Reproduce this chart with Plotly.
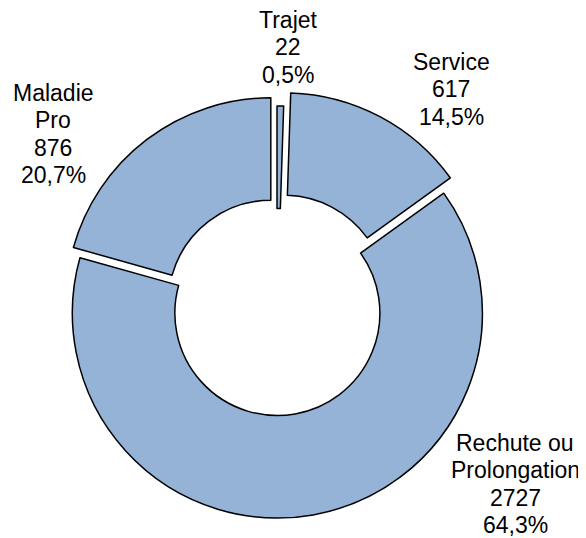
import plotly.graph_objects as go

# Répartition des arrêts par type
labels = ["Trajet", "Service", "Rechute ou Prolongation", "Maladie Pro"]
label_lines = [["Trajet"], ["Service"], ["Rechute ou", "Prolongation"], ["Maladie", "Pro"]]
values = [22, 617, 2727, 876]
pulls = [0.0, 0.073, 0.01, 0.05]

# centre de la première ligne de chaque étiquette (px dans la fenêtre)
label_pos = [(288, 20), (451, 62), (515, 443), (53, 93)]
LINE_STEP = 27.3

OFF = 8  # marge du <body> de la page
W, H = 586 - OFF, 538 - OFF
FILL = "#95B3D7"
FONT = "Arial, 'Liberation Sans', sans-serif"

total = sum(values)

fig = go.Figure(
    go.Pie(
        labels=labels,
        values=values,
        hole=0.5,
        sort=False,
        direction="clockwise",
        rotation=0,
        pull=pulls,
        marker=dict(colors=[FILL] * len(values), line=dict(color="#000000", width=1.5)),
        textinfo="none",
        hoverinfo="label+value+percent",
        showlegend=False,
        domain=dict(x=[0.0848, 0.846], y=[0.0132, 0.8434]),
    )
)

for lines, val, (px, py) in zip(label_lines, values, label_pos):
    pct = f"{val / total * 100:.1f}".replace(".", ",")
    for i, txt in enumerate(lines + [str(val), pct + "%"]):
        fig.add_annotation(
            text=txt,
            x=(px - OFF) / W,
            y=1 - (py - OFF + i * LINE_STEP) / H,
            xref="paper", yref="paper",
            xanchor="center", yanchor="middle",
            showarrow=False,
            font=dict(family=FONT, size=23, color="#000000"),
        )

fig.update_layout(
    width=W,
    height=H,
    margin=dict(l=0, r=0, t=0, b=0),
    paper_bgcolor="white",
    separators=", ",
    font=dict(family=FONT),
)

fig.write_html("out.html")
